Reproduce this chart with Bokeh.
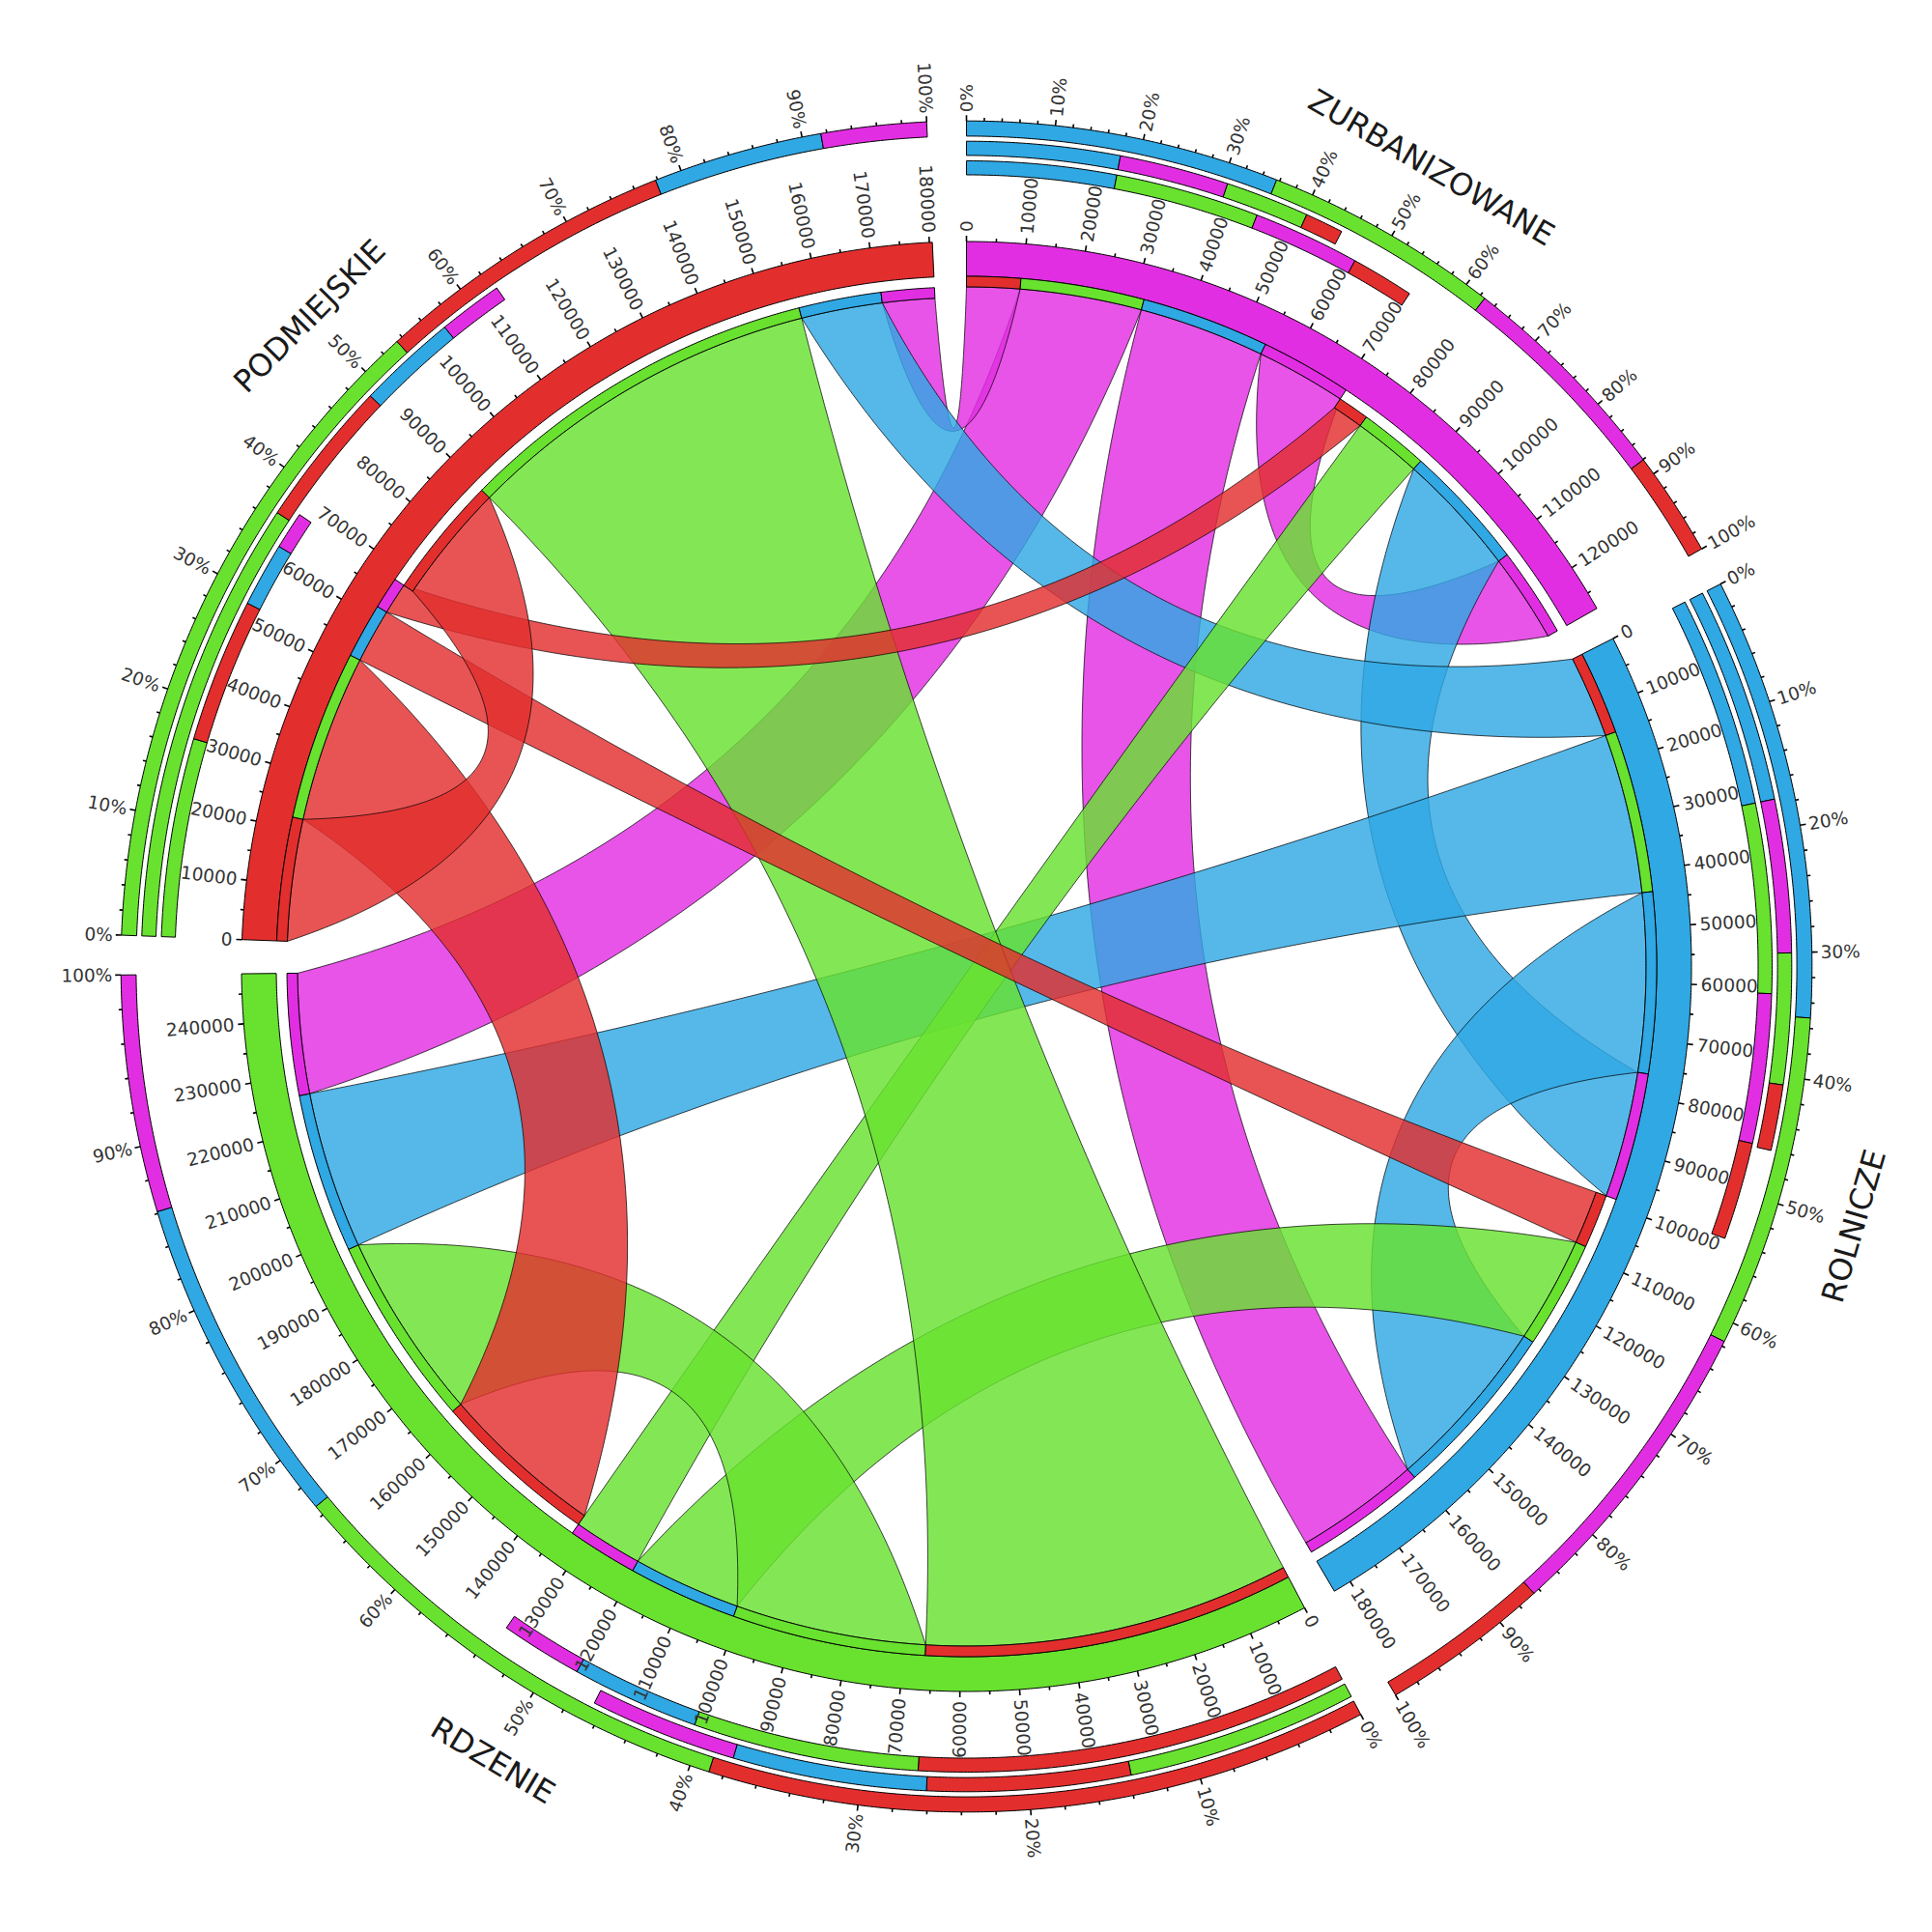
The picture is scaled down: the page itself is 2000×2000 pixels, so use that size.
import numpy as np
from bokeh.plotting import figure
from bokeh.models import ColumnDataSource, Range1d
from bokeh.embed import file_html
from bokeh.resources import INLINE
from bokeh.core.properties import value

# ---------------- data ----------------
regions = ["ZURBANIZOWANE", "ROLNICZE", "RDZENIE", "PODMIEJSKIE"]
region_colors = ["#E22EE2", "#2FA8E4", "#68E22F", "#E32E2E"]
# migration flows: row = origin, entries = destination in the order of `regions`
from_zurbanizowane = [16300, 22800, 22000, 9600]
from_rolnicze = [22800, 32200, 28900, 14900]
from_rdzenie = [12500, 19500, 34500, 66200]
from_podmiejskie = [5700, 9800, 30300, 22000]
link_order = [3, 2, 1, 0]          # order of partner segments inside a sector
tick_minor, tick_major = 5000, 10000
pct_minor, pct_major = 2, 10

flows = np.array([from_zurbanizowane, from_rolnicze, from_rdzenie, from_podmiejskie], float)
n = len(regions)
totals = flows.sum(1) + flows.sum(0)

# ---------------- geometry ----------------
CX = CY = 1000.0
GAP = 2.7
START = 0.0
dpu = (360.0 - n * GAP) / totals.sum()
starts = []
a = START
for i in range(n):
    starts.append(a)
    a += totals[i] * dpu + GAP
spans = [totals[i] * dpu for i in range(n)]

R_IN0, R_IN1 = 692.5, 703.5
R_OUT0, R_OUT1 = 703.5, 714.5
R_BAR0, R_BAR1 = 714.5, 750.5
R_RC = (819.5, 834.0)
R_RB = (839.6, 854.3)
R_RA = (859.6, 875.3)


def pt(th, r):
    t = np.radians(th)
    return CX + r * np.sin(t), CY + r * np.cos(t)


def arc(th0, th1, r):
    k = max(2, int(abs(th1 - th0) * 4) + 2)
    th = np.linspace(th0, th1, k)
    return pt(th, r)


def band(th0, th1, r0, r1):
    x1, y1 = arc(th0, th1, r1)
    x0, y0 = arc(th1, th0, r0)
    return list(np.concatenate([x1, x0])), list(np.concatenate([y1, y0]))


def bezier(p0, p2, H=140.0, k=90):
    p0 = np.array(p0) - [CX, CY]
    p2 = np.array(p2) - [CX, CY]
    m = (p0 + p2) / 2
    d = np.hypot(*m)
    if d < 1e-6:
        c = np.zeros(2)
    else:
        depth = min(0.5 * d, H)
        c = m * (1 - 2 * depth / d)
    t = np.linspace(0, 1, k)[:, None]
    pts = (1 - t) ** 2 * p0 + 2 * (1 - t) * t * c + t ** 2 * p2
    return pts[:, 0] + CX, pts[:, 1] + CY


out_seg, in_seg = {}, {}
for i in range(n):
    a = starts[i]
    for j in link_order:
        w = flows[i, j] * dpu
        out_seg[(i, j)] = (a, a + w)
        a += w
    for k in link_order:
        w = flows[k, i] * dpu
        in_seg[(k, i)] = (a, a + w)
        a += w

p = figure(width=2000, height=2000, x_range=Range1d(0, 2000), y_range=Range1d(0, 2000),
           toolbar_location=None, output_backend="svg", min_border=0,
           x_axis_type=None, y_axis_type=None)
p.grid.grid_line_color = None
p.outline_line_color = None
p.background_fill_color = "white"

# ---------------- chords ----------------
cx, cy, cc = [], [], []
for i in range(n):
    for j in range(n):
        a1, a2 = out_seg[(i, j)]
        b1, b2 = in_seg[(i, j)]
        xa, ya = arc(a1, a2, R_OUT0)
        xq1, yq1 = bezier(pt(a2, R_OUT0), pt(b1, R_IN0))
        xb, yb = arc(b1, b2, R_IN0)
        xq2, yq2 = bezier(pt(b2, R_IN0), pt(a1, R_OUT0))
        cx.append(list(np.concatenate([xa, xq1, xb, xq2])))
        cy.append(list(np.concatenate([ya, yq1, yb, yq2])))
        cc.append(region_colors[i])
p.patches("xs", "ys", source=ColumnDataSource(dict(xs=cx, ys=cy, c=cc)),
          fill_color="c", fill_alpha=0.82, line_color="black", line_width=0.8, line_alpha=0.9)

# ---------------- bars ----------------
bx, by, bc = [], [], []
for i in range(n):
    x, y = band(starts[i], starts[i] + spans[i], R_BAR0, R_BAR1)
    bx.append(x); by.append(y); bc.append(region_colors[i])
    for j in link_order:
        a1, a2 = out_seg[(i, j)]
        x, y = band(a1, a2, R_OUT0, R_OUT1)
        bx.append(x); by.append(y); bc.append(region_colors[j])
    for k in link_order:
        b1, b2 = in_seg[(k, i)]
        x, y = band(b1, b2, R_IN0, R_IN1)
        bx.append(x); by.append(y); bc.append(region_colors[k])
    # percentage rings: outflows, inflows, total
    outs = [(flows[i, j], j) for j in range(n)]
    ins = [(flows[k, i], k) for k in range(n)]
    tots = [(flows[i, j] + flows[j, i], j) for j in range(n)]
    for vals, (r0, r1) in ((outs, R_RC), (ins, R_RB), (tots, R_RA)):
        vals = sorted(vals, key=lambda v: -v[0])
        acc = 0.0
        for v, j in vals:
            t0 = starts[i] + acc / totals[i] * spans[i]
            acc += v
            t1 = starts[i] + acc / totals[i] * spans[i]
            x, y = band(t0, t1, r0, r1)
            bx.append(x); by.append(y); bc.append(region_colors[j])
p.patches("xs", "ys", source=ColumnDataSource(dict(xs=bx, ys=by, c=bc)),
          fill_color="c", line_color="black", line_width=1.0)

# ---------------- ticks & labels ----------------
tx0, ty0, tx1, ty1 = [], [], [], []
labL = dict(x=[], y=[], t=[], a=[])
labR = dict(x=[], y=[], t=[], a=[])


def add_label(th, r, text):
    x, y = pt(th, r)
    thm = th % 360
    phi = 90 - thm
    if thm <= 180:
        d = labL; ang = phi
    else:
        d = labR; ang = phi + 180
    d["x"].append(x); d["y"].append(y); d["t"].append(text); d["a"].append(np.radians(ang))


for i in range(n):
    v = 0
    while v <= totals[i]:
        th = starts[i] + v * dpu
        major = v % tick_major == 0
        x0, y0 = pt(th, R_BAR1)
        x1, y1 = pt(th, R_BAR1 + (6 if major else 3.5))
        tx0.append(x0); ty0.append(y0); tx1.append(x1); ty1.append(y1)
        if major:
            add_label(th, R_BAR1 + 10, str(v))
        v += tick_minor
    for q in range(0, 101, pct_minor):
        th = starts[i] + q / 100 * spans[i]
        major = q % pct_major == 0
        x0, y0 = pt(th, R_RA[1])
        x1, y1 = pt(th, R_RA[1] + (6 if major else 3.5))
        tx0.append(x0); ty0.append(y0); tx1.append(x1); ty1.append(y1)
        if major:
            add_label(th, R_RA[1] + 9, f"{q}%")

p.segment(tx0, ty0, tx1, ty1, line_color="black", line_width=1.6)
for d, al in ((labL, "left"), (labR, "right")):
    p.text("x", "y", text="t", angle="a", source=ColumnDataSource(d), text_align=al,
           text_baseline="middle", text_font=value("DejaVu Sans"), text_font_size="18.5px",
           text_color="#333333")

# sector names
nx, ny, nt, na = [], [], [], []
for i in range(n):
    th = starts[i] + spans[i] / 2
    x, y = pt(th, 957)
    rot = (-th) % 360
    if 90 < rot <= 270:
        rot -= 180
    elif rot > 270:
        rot -= 360
    nx.append(x); ny.append(y); nt.append(regions[i]); na.append(np.radians(rot))
p.text(nx, ny, text=nt, angle=na, text_align="center", text_baseline="middle",
       text_font=value("DejaVu Sans"), text_font_size="32px", text_color="#1a1a1a")

open("out.html", "w").write(file_html(p, INLINE))
